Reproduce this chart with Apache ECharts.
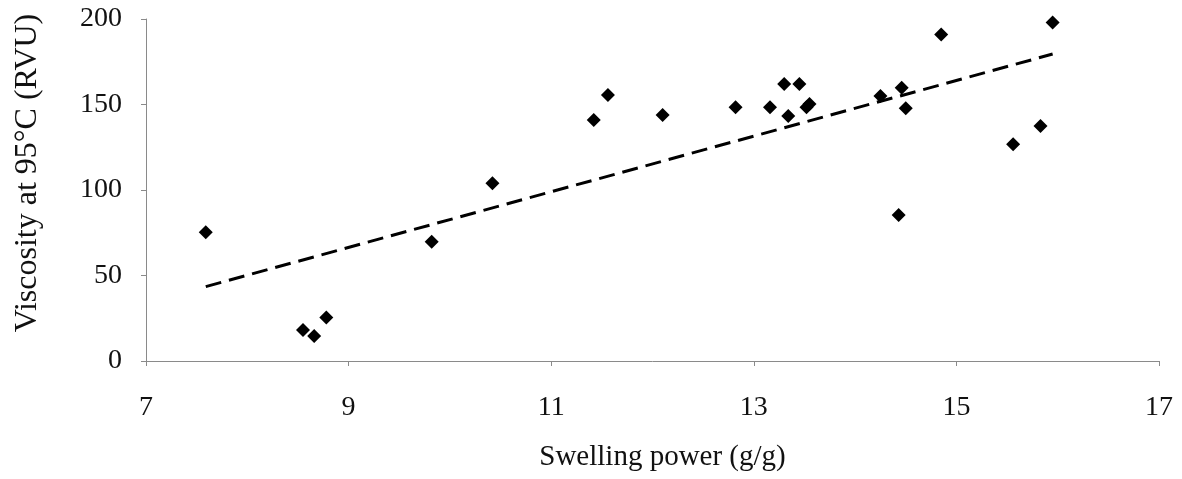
<!DOCTYPE html>
<html>
<head>
<meta charset="utf-8">
<script src="https://cdn.jsdelivr.net/npm/echarts@6/dist/echarts.min.js"></script>
<style>
  html, body { margin: 0; padding: 0; background: #fff; }
  #chart { width: 1182px; height: 479px; }
</style>
</head>
<body>
<div id="chart"></div>
<script>
// Swelling power (g/g) of each sample
const swellingPower = [7.59, 8.55, 8.66, 8.78, 9.82, 10.42, 11.42, 11.56, 12.10, 12.82,
  13.16, 13.30, 13.45, 13.34, 13.52, 13.55, 14.25, 14.46, 14.50, 14.43,
  14.85, 15.95, 15.56, 15.83];
// Viscosity at 95 °C (RVU) of each sample
const viscosity95 = [75.3, 18.1, 14.6, 25.5, 69.8, 103.9, 140.9, 155.6, 143.9, 148.4,
  148.4, 162.0, 162.0, 143.3, 148.4, 150.3, 155.0, 159.8, 147.8, 85.4,
  191.0, 198.0, 126.7, 137.4];
// Linear trend line end points (x, y)
const trendX = [7.59, 15.95];
const trendY = [43.5, 179.5];

const xTicks = [7, 9, 11, 13, 15, 17];
const yTicks = [0, 50, 100, 150, 200];

const serif = '"Liberation Serif", "DejaVu Serif", serif';
const axisGrey = '#8a8a8a';

const chart = echarts.init(document.getElementById('chart'));
chart.setOption({
  animation: false,
  backgroundColor: '#ffffff',
  grid: { left: 146, right: 23, top: 19, bottom: 118 },
  xAxis: {
    type: 'value',
    min: xTicks[0],
    max: xTicks[xTicks.length - 1],
    interval: 2,
    name: 'Swelling power (g/g)',
    nameLocation: 'middle',
    nameGap: 82,
    nameTextStyle: { fontFamily: serif, fontSize: 29, color: '#111', padding: [0, 0, 0, 20] },
    axisLine: { show: true, lineStyle: { color: axisGrey, width: 1 } },
    axisTick: { show: true, inside: false, length: 5, lineStyle: { color: axisGrey } },
    axisLabel: { fontFamily: serif, fontSize: 28, color: '#111', margin: 33 },
    splitLine: { show: false }
  },
  yAxis: {
    type: 'value',
    min: yTicks[0],
    max: yTicks[yTicks.length - 1],
    interval: 50,
    name: 'Viscosity at 95°C (RVU)',
    nameLocation: 'middle',
    nameRotate: 90,
    nameGap: 102,
    nameTextStyle: { fontFamily: serif, fontSize: 32, color: '#111', padding: [0, 0, 0, 34] },
    axisLine: { show: true, lineStyle: { color: axisGrey, width: 1 } },
    axisTick: { show: true, inside: false, length: 5, lineStyle: { color: axisGrey } },
    axisLabel: { fontFamily: serif, fontSize: 28, color: '#111', margin: 24 },
    splitLine: { show: false }
  },
  series: [
    {
      type: 'line',
      data: trendX.map((x, i) => [x, trendY[i]]),
      symbol: 'none',
      lineStyle: { color: '#000', width: 3, type: [16, 8] },
      z: 2
    },
    {
      type: 'scatter',
      data: swellingPower.map((x, i) => [x, viscosity95[i]]),
      symbol: 'diamond',
      symbolSize: [14, 14],
      itemStyle: { color: '#000', opacity: 1 },
      z: 3
    }
  ]
});
</script>
</body>
</html>
